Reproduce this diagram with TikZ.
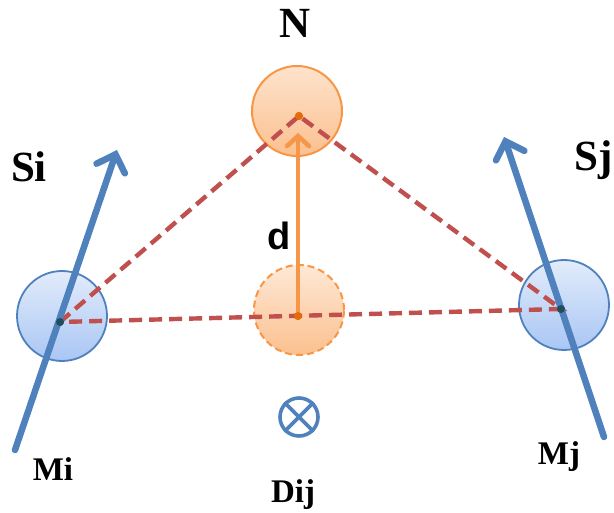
\documentclass[tikz,border=0pt]{standalone}
\usepackage{fontspec}
\setmainfont{Liberation Serif}
\newfontfamily\labelsans{Liberation Sans}
\usetikzlibrary{arrows.meta}
\definecolor{vecblue}{HTML}{4F81BD}
\definecolor{linkred}{HTML}{C0504D}
\definecolor{nodeorange}{HTML}{F79646}
\definecolor{dotorange}{HTML}{E46C0A}
\definecolor{dotteal}{HTML}{1F4E5F}
\definecolor{skytop}{HTML}{E2ECFB}
\definecolor{skybottom}{HTML}{A9C6F4}
\definecolor{peachtop}{HTML}{FEE3CC}
\definecolor{peachbottom}{HTML}{FBC08F}
\tikzset{
  x=1pt, y=-1pt,
  sensor/.style={circle, draw=vecblue, line width=1.8pt, minimum size=90pt, inner sep=0pt,
    top color=skytop, bottom color=skybottom},
  target/.style={circle, draw=nodeorange, line width=2pt, minimum size=90pt, inner sep=0pt,
    top color=peachtop, bottom color=peachbottom},
  ghost/.style={target, dash pattern=on 7pt off 4pt, top color=peachtop!80!white, bottom color=peachbottom},
  pin/.style={circle, fill=#1, inner sep=0pt, minimum size=8pt},
  link/.style={draw=linkred, line width=4.4pt, dash pattern=on 13pt off 7pt},
  motion/.style={draw=vecblue, line width=6.5pt, line cap=round,
    -{Straight Barb[length=15pt, width=30pt, line cap=round, line width=6.5pt]}},
  dispvec/.style={draw=nodeorange, line width=4.5pt,
    -{Straight Barb[length=10pt, width=22pt, line cap=round, line width=4.5pt]}},
  tag/.style={font=\bfseries\fontsize{33}{33}\selectfont, inner sep=0pt},
  bigtag/.style={font=\bfseries\fontsize{43}{43}\selectfont, inner sep=0pt},
}
\begin{document}
\begin{tikzpicture}
\useasboundingbox (0,0) rectangle (614,513);

% circles
\node[sensor] (Mi) at (62,316) {};
\node[sensor] (Mj) at (564,305) {};
\node[target] (N) at (297,111) {};
\node[ghost] (D) at (299,310) {};

% centre points
\node[pin=dotteal] (pi) at (60,322) {};
\node[pin=dotteal] (pj) at (561,309) {};
\node[pin=dotorange] (pn) at (299,116) {};
\node[pin=dotorange] (pd) at (298,316) {};

% dashed links between the three centres
\draw[link] (pi.center) -- (pn.center) -- (pj.center) -- cycle;

% displacement of the target
\coordinate (dtip) at (298,133);
\draw[dispvec] (pd.center) -- (dtip);

% motion vectors of the sensors
\coordinate (si0) at (15,450);
\coordinate (si1) at (117,150);
\coordinate (sj0) at (604,437);
\coordinate (sj1) at (504,137);
\draw[motion] (si0) -- (si1);
\draw[motion] (sj0) -- (sj1);

% redraw centre points above the lines
\node[pin=dotteal] at (pi) {};
\node[pin=dotteal] at (pj) {};
\node[pin=dotorange] at (pn) {};
\node[pin=dotorange] at (pd) {};

% cross-product symbol
\node[circle, draw=vecblue, line width=3.6pt, minimum size=38pt, inner sep=0pt] (X) at (299,417) {};
\draw[vecblue, line width=3.6pt] (X.45) -- (X.225) (X.135) -- (X.315);

% labels
\node[bigtag] (lN) at (295,23) {N};
\node[bigtag] (lSi) at (29,167) {Si};
\node[bigtag] (lSj) at (594,160) {Sj};
\node[tag] (lMi) at (53,469) {Mi};
\node[tag] (lMj) at (559,457) {Mj};
\node[tag] (lD) at (293,495) {Dij};
\node[font=\labelsans\bfseries\fontsize{38}{38}\selectfont, inner sep=0pt] (ld) at (279,236) {d};
\end{tikzpicture}
\end{document}
